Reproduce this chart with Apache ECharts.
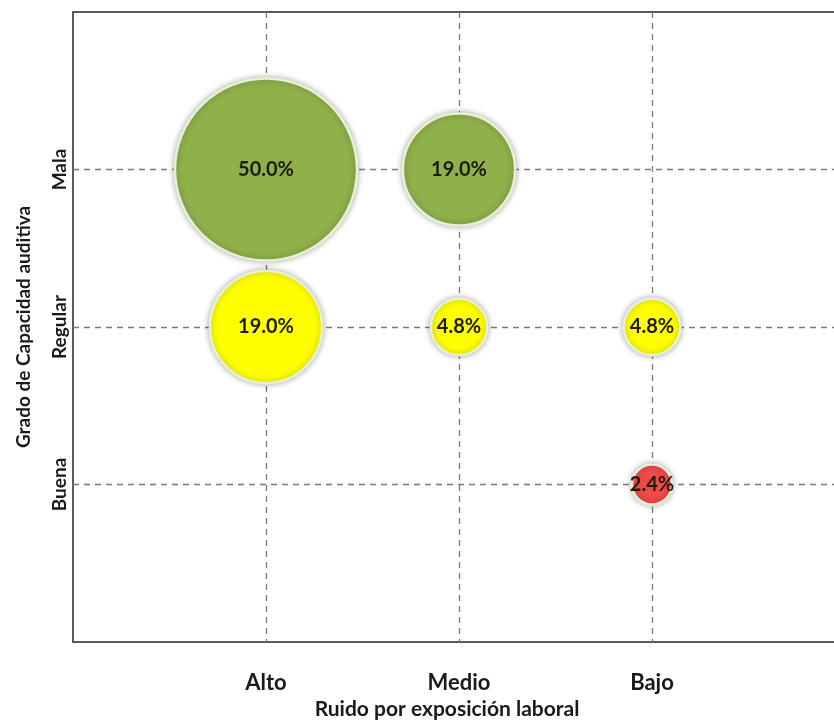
<!DOCTYPE html>
<html>
<head>
<meta charset="utf-8">
<title>Ruido por exposición laboral</title>
<script src="https://cdn.jsdelivr.net/npm/echarts@6/dist/echarts.min.js"></script>
<style>
    html, body { margin: 0; padding: 0; background: #fff; }
    #chart { width: 834px; height: 722px; }
</style>
</head>
<body>
<div id="chart"></div>
<script>
// categorias de cada eje
var ruido = ['Alto', 'Medio', 'Bajo'];
var capacidad = ['Buena', 'Regular', 'Mala'];

// cada burbuja: nivel de ruido, grado de capacidad, porcentaje
var puntoRuido = ['Alto', 'Medio', 'Alto', 'Medio', 'Bajo', 'Bajo'];
var puntoCapacidad = ['Mala', 'Mala', 'Regular', 'Regular', 'Regular', 'Buena'];
var porcentaje = [50.0, 19.0, 19.0, 4.8, 4.8, 2.4];

var colores = {
    'Mala': '#8fb04b',
    'Regular': '#ffff00',
    'Buena': '#f04a4a'
};

var FUENTE = 'Lato, "Open Sans", sans-serif';

var datos = [];
for (var i = 0; i < porcentaje.length; i++) {
    datos.push({
        value: [
            ruido.indexOf(puntoRuido[i]) + 1,
            capacidad.indexOf(puntoCapacidad[i]) + 1,
            porcentaje[i]
        ],
        itemStyle: { color: colores[puntoCapacidad[i]] }
    });
}

// etiqueta de la categoria para cada marca entera del eje
var etiqueta = function(lista) {
    return function(v) {
        return lista[v - 1] || '';
    };
};

var chart = echarts.init(document.getElementById('chart'));

chart.setOption({
    backgroundColor: '#fff',
    animation: false,
    grid: {
        left: 73,
        right: -11,
        top: 12,
        bottom: 80,
        containLabel: false,
        outerBoundsMode: 'none',
        show: true,
        borderColor: '#5a5a5a',
        borderWidth: 2
    },
    xAxis: {
        type: 'value',
        min: 0,
        max: 4,
        interval: 1,
        name: 'Ruido por exposición laboral',
        nameLocation: 'middle',
        nameGap: 57,
        nameTextStyle: {
            fontFamily: FUENTE,
            fontWeight: 'bold',
            fontSize: 21,
            color: '#1a1a1a',
            padding: [0, 24, 0, 0]
        },
        axisLine: { show: false },
        axisTick: { show: false },
        axisLabel: {
            margin: 30,
            fontFamily: FUENTE,
            fontWeight: 'bold',
            fontSize: 22,
            color: '#1a1a1a',
            formatter: etiqueta(ruido)
        },
        splitLine: {
            show: true,
            showMinLine: false,
            showMaxLine: false,
            lineStyle: { color: '#7a7a7a', type: [6, 5], width: 1.3 }
        }
    },
    yAxis: {
        type: 'value',
        min: 0,
        max: 4,
        interval: 1,
        name: 'Grado de Capacidad auditiva',
        nameLocation: 'middle',
        nameGap: 40,
        nameRotate: 90,
        nameTextStyle: {
            fontFamily: FUENTE,
            fontWeight: 'bold',
            fontSize: 19,
            color: '#1a1a1a'
        },
        axisLine: { show: false },
        axisTick: { show: false },
        axisLabel: {
            rotate: 90,
            margin: 4,
            fontFamily: FUENTE,
            fontWeight: 'bold',
            fontSize: 19,
            color: '#1a1a1a',
            formatter: etiqueta(capacidad)
        },
        splitLine: {
            show: true,
            showMinLine: false,
            showMaxLine: false,
            lineStyle: { color: '#7a7a7a', type: [6, 5], width: 1.3 }
        }
    },
    series: [{
        type: 'scatter',
        data: datos,
        // area de la burbuja proporcional al porcentaje
        symbolSize: function(v) {
            return 182 * Math.sqrt(v[2] / 50);
        },
        itemStyle: {
            opacity: 1,
            borderColor: '#e8f0d6',
            borderWidth: 2.5,
            shadowBlur: 6,
            shadowColor: 'rgba(0, 0, 0, 0.3)'
        },
        label: {
            show: true,
            position: 'inside',
            fontFamily: FUENTE,
            fontWeight: 'bold',
            fontSize: 20,
            color: '#1c1c10',
            formatter: function(p) {
                return p.value[2].toFixed(1) + '%';
            }
        }
    }]
});
</script>
</body>
</html>
